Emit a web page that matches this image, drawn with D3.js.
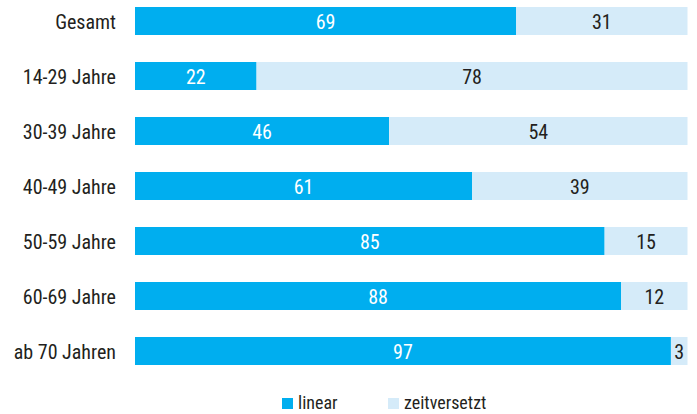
<!DOCTYPE html>
<html>
<head>
<meta charset="utf-8">
<script src="https://cdn.jsdelivr.net/npm/d3@7"></script>
<style>
  body { margin: 0; background: #fff; }
  text { font-family: "Liberation Sans Narrow", "Roboto Condensed", "DejaVu Sans Condensed", sans-serif; }
</style>
</head>
<body>
<script>
var categories = ['Gesamt', '14-29 Jahre', '30-39 Jahre', '40-49 Jahre', '50-59 Jahre', '60-69 Jahre', 'ab 70 Jahren'];
var linear = [69, 22, 46, 61, 85, 88, 97];
var zeitversetzt = [31, 78, 54, 39, 15, 12, 3];
var seriesNames = ['linear', 'zeitversetzt'];
var colors = ['#00aeef', '#d5ebf9'];

var w = 697;
var h = 414;
var fontSize = 20;

var svg = d3.select('body')
  .append('svg')
  .attr('width', w)
  .attr('height', h);

var x = d3.scaleLinear().domain([0, 100]).range([135, 687.5]);
// step 55, bar 28
var y = d3.scaleBand().domain(categories).range([7, 365]).paddingInner(27 / 55).paddingOuter(0);

var rows = categories.map((c, i) => ({ cat: c, a: linear[i], b: zeitversetzt[i] }));

var g = svg.selectAll('.row')
  .data(rows)
  .enter()
  .append('g')
  .attr('class', 'row');

g.append('rect')
  .attr('x', x(0))
  .attr('y', d => y(d.cat))
  .attr('width', d => x(d.a) - x(0))
  .attr('height', y.bandwidth())
  .attr('fill', colors[0]);

g.append('rect')
  .attr('x', d => x(d.a))
  .attr('y', d => y(d.cat))
  .attr('width', d => x(d.a + d.b) - x(d.a))
  .attr('height', y.bandwidth())
  .attr('fill', colors[1]);

var mid = d => y(d.cat) + y.bandwidth() / 2 + 1;

g.append('text')
  .attr('x', d => x(d.a / 2))
  .attr('y', mid)
  .attr('dy', '0.36em')
  .attr('text-anchor', 'middle')
  .attr('font-size', fontSize)
  .attr('fill', '#fff')
  .text(d => d.a);

g.append('text')
  .attr('x', d => x(d.a + d.b / 2))
  .attr('y', mid)
  .attr('dy', '0.36em')
  .attr('text-anchor', 'middle')
  .attr('font-size', fontSize)
  .attr('fill', '#231f20')
  .text(d => d.b);

g.append('text')
  .attr('x', 116)
  .attr('y', mid)
  .attr('dy', '0.36em')
  .attr('text-anchor', 'end')
  .attr('font-size', fontSize)
  .attr('fill', '#231f20')
  .text(d => d.cat);

// legend
var legendX = [282, 388];
var legend = svg.selectAll('.legend')
  .data(seriesNames)
  .enter()
  .append('g')
  .attr('class', 'legend');

legend.append('rect')
  .attr('x', (d, i) => legendX[i])
  .attr('y', 398)
  .attr('width', 11)
  .attr('height', 11)
  .attr('fill', (d, i) => colors[i]);

legend.append('text')
  .attr('x', (d, i) => legendX[i] + 16)
  .attr('y', 409)
  .attr('font-size', 18)
  .attr('fill', '#231f20')
  .text(d => d);
</script>
</body>
</html>
